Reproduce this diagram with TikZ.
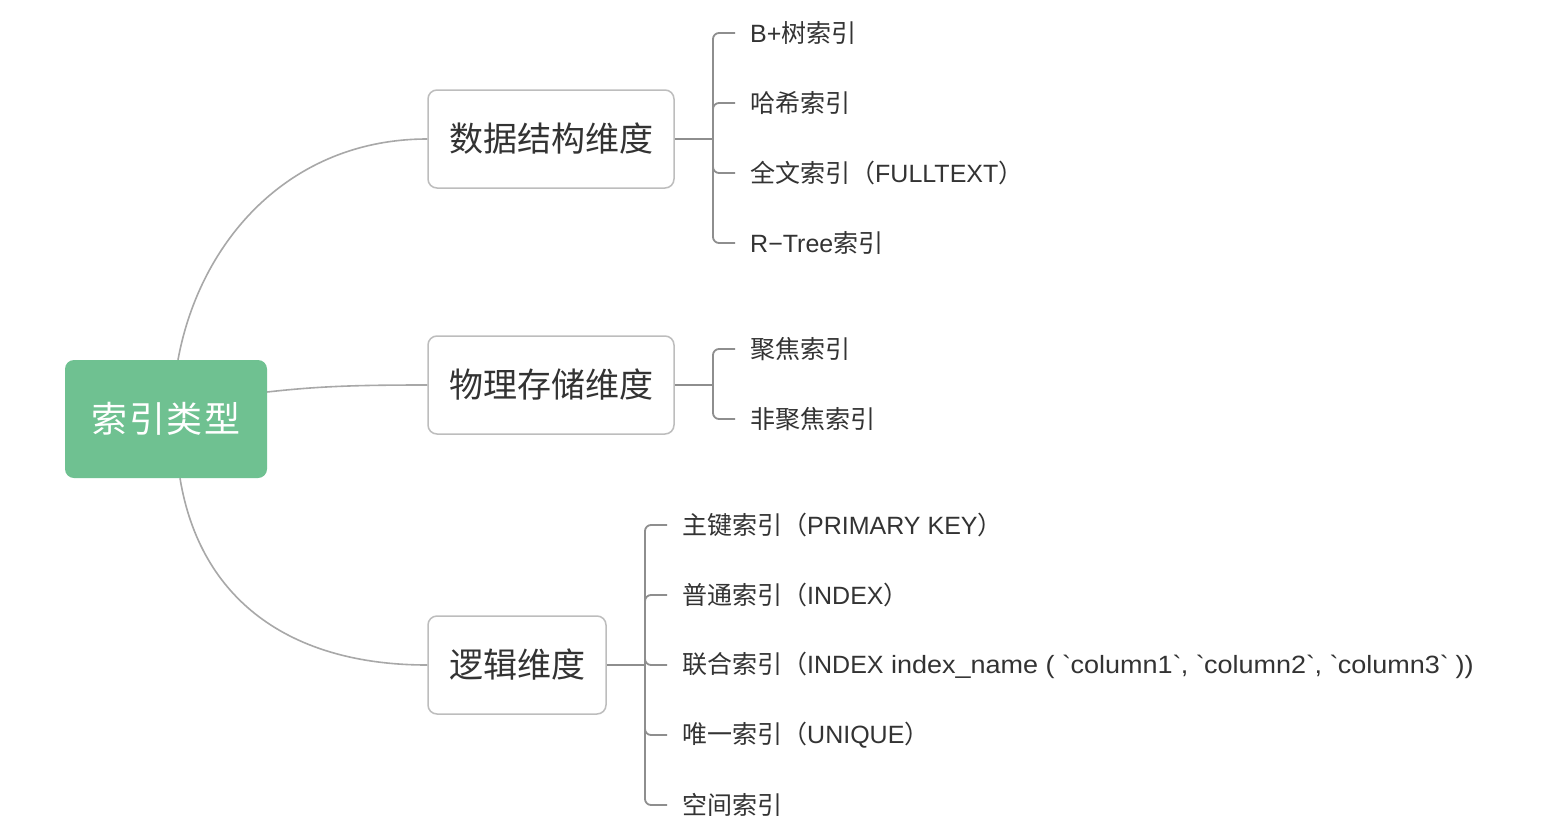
\documentclass[tikz,border=0pt]{standalone}
\usepackage{fontspec}
\setmainfont{Liberation Sans}
\newfontfamily\cjk{Noto Sans CJK SC}
\newfontfamily\widefont[FakeStretch=1.08]{Liberation Sans}
\newfontfamily\rootfont[LetterSpace=4]{Noto Sans CJK SC}
\usetikzlibrary{calc}
\definecolor{rootgreen}{HTML}{6FC191}
\definecolor{boxline}{HTML}{BDBDBD}
\definecolor{curveline}{HTML}{A8A8A8}
\definecolor{brline}{HTML}{8E8E8E}
\definecolor{txt}{HTML}{333333}
\newcommand{\bq}{\textasciigrave}
\tikzset{
  rootbox/.style={fill=rootgreen, rounded corners=9pt, minimum width=202pt, minimum height=118pt, inner sep=0pt, text=white, font=\rootfont\fontsize{36}{42}\selectfont},
  midbox/.style={draw=boxline, line width=1.5pt, fill=white, rounded corners=9pt, minimum height=98pt, inner sep=0pt, text=txt, font=\cjk\fontsize{34}{40}\selectfont},
  leaf/.style={anchor=west, inner sep=0pt, text=txt, font=\fontsize{25}{30}\selectfont},
  curve/.style={draw=curveline, line width=1.6pt},
  br/.style={draw=brline, line width=1.8pt, rounded corners=6pt},
}
\begin{document}
\begin{tikzpicture}[x=1pt,y=-1pt]
\useasboundingbox (0,0) rectangle (1552,838);
\fill[white] (0,0) rectangle (1552,838);

\node[rootbox] (root) at (166,419) {索引类型};
\node[midbox, minimum width=246pt] (n1) at (551,139) {数据结构维度};
\node[midbox, minimum width=246pt] (n2) at (551,385) {物理存储维度};
\node[midbox, minimum width=178pt] (n3) at (517,665) {逻辑维度};

% leaves
\node[leaf] (a1) at (750,33) {B+{\cjk 树索引}};
\node[leaf] (a2) at (750,103) {\cjk 哈希索引};
\node[leaf] (a3) at (750,173) {{\cjk 全文索引（}FULLTEXT{\cjk ）}};
\node[leaf] (a4) at (750,243) {R−Tree{\cjk 索引}};

\node[leaf] (b1) at (750,349) {\cjk 聚焦索引};
\node[leaf] (b2) at (750,419) {\cjk 非聚焦索引};

\node[leaf] (c1) at (682,525) {{\cjk 主键索引（}PRIMARY KEY{\cjk ）}};
\node[leaf] (c2) at (682,595) {{\cjk 普通索引（}INDEX{\cjk ）}};
\node[leaf] (c3) at (682,665) {{\cjk 联合索引（}INDEX{\widefont{} index\_name ( \bq column1\bq, \bq column2\bq, \bq column3\bq{} ))}};
\node[leaf] (c4) at (682,735) {{\cjk 唯一索引（}UNIQUE{\cjk ）}};
\node[leaf] (c5) at (682,805) {\cjk 空间索引};

% root connectors
\draw[curve] ([xshift=12pt]root.north) .. controls (200,240) and (290,139) .. (n1.west);
\draw[curve] ([yshift=27pt]root.east) .. controls (320,386) and (360,385) .. (n2.west);
\draw[curve] ([xshift=14pt]root.south) .. controls (200,600) and (290,665) .. (n3.west);

% brackets
\coordinate (j1) at (713,139);
\coordinate (j2) at (713,385);
\coordinate (j3) at (645,665);
\draw[br] (n1.east) -- (j1);
\draw[br] (n2.east) -- (j2);
\draw[br] (n3.east) -- (j3);
\foreach \l in {a1,a2,a3,a4}{\draw[br] (j1) |- ([xshift=-15pt]\l.west);}
\foreach \l in {b1,b2}{\draw[br] (j2) |- ([xshift=-15pt]\l.west);}
\foreach \l in {c1,c2,c3,c4,c5}{\draw[br] (j3) |- ([xshift=-15pt]\l.west);}
\end{tikzpicture}
\end{document}
